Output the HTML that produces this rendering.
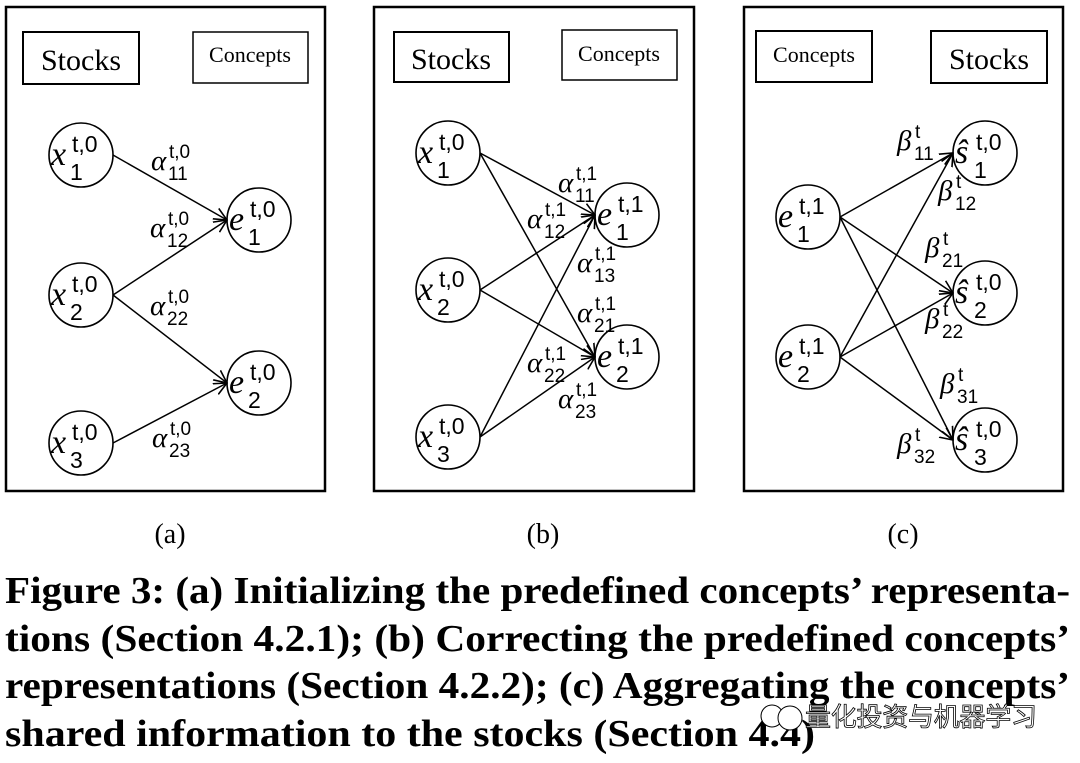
<!DOCTYPE html>
<html><head><meta charset="utf-8"><style>
html,body{margin:0;padding:0;background:#fff;}
svg{display:block;}
.m{font-family:"Liberation Serif",serif;font-style:italic;}
.u{font-family:"Liberation Sans",sans-serif;}
.cap{font-family:"Liberation Serif",serif;font-weight:bold;font-size:38px;}
</style></head><body>
<svg id="fig" width="1080" height="763" viewBox="0 0 1080 763" xmlns="http://www.w3.org/2000/svg">
<defs><marker id="ah" markerWidth="14" markerHeight="14" refX="13" refY="7" orient="auto" markerUnits="userSpaceOnUse"><path d="M0,1 L13,7 L0,13" fill="none" stroke="#000" stroke-width="1.6"/></marker></defs>
<g id="panels" fill="none" stroke="#000">
<rect x="6" y="7" width="319" height="484" stroke-width="2.5"/>
<rect x="374" y="7" width="320" height="484" stroke-width="2.5"/>
<rect x="744" y="7" width="319" height="484" stroke-width="2.5"/>
<rect x="23" y="32" width="116" height="52" stroke-width="2"/>
<rect x="193" y="32" width="115" height="51" stroke-width="1.5"/>
<rect x="394" y="32" width="115" height="50" stroke-width="2"/>
<rect x="562" y="30" width="115" height="50" stroke-width="1.5"/>
<rect x="756" y="31" width="116" height="51" stroke-width="2"/>
<rect x="931" y="31" width="116" height="52" stroke-width="2"/>
</g>
<g font-family="Liberation Serif, serif" fill="#000">
<text x="81" y="70" font-size="30" text-anchor="middle">Stocks</text>
<text x="250" y="62" font-size="22" text-anchor="middle">Concepts</text>
<text x="451" y="69" font-size="30" text-anchor="middle">Stocks</text>
<text x="619" y="61" font-size="22" text-anchor="middle">Concepts</text>
<text x="814" y="62" font-size="22" text-anchor="middle">Concepts</text>
<text x="989" y="69" font-size="30" text-anchor="middle">Stocks</text>
<text x="170" y="543" font-size="28" text-anchor="middle">(a)</text>
<text x="543" y="543" font-size="28" text-anchor="middle">(b)</text>
<text x="903" y="543" font-size="28" text-anchor="middle">(c)</text>
</g>
<g class="cap" fill="#000">
<text x="5" y="603" textLength="1065" lengthAdjust="spacingAndGlyphs">Figure 3: (a) Initializing the predefined concepts’ representa-</text>
<text x="5" y="651" textLength="1065" lengthAdjust="spacingAndGlyphs">tions (Section 4.2.1); (b) Correcting the predefined concepts’</text>
<text x="5" y="698" textLength="1065" lengthAdjust="spacingAndGlyphs">representations (Section 4.2.2); (c) Aggregating the concepts’</text>
<text x="5" y="746" textLength="810" lengthAdjust="spacingAndGlyphs">shared information to the stocks (Section 4.4)</text>
</g>
<g>
<circle cx="772" cy="716" r="11" fill="#fff" stroke="#000" stroke-width="1"/>
<circle cx="790" cy="718" r="12" fill="#fff" stroke="#000" stroke-width="1"/>
<text x="805" y="726" font-family="Noto Sans CJK SC, sans-serif" font-size="26" fill="#fff" stroke="#000" stroke-width="0.8" textLength="232">量化投资与机器学习</text>
</g>
<g id="dyn"></g>
</svg>
<script>
const NS="http://www.w3.org/2000/svg";
const dyn=document.getElementById('dyn');
function mk(tag,attrs){const e=document.createElementNS(NS,tag);for(const k in attrs)e.setAttribute(k,attrs[k]);dyn.appendChild(e);return e;}
const nodes=[
["a-x1",81,155,"x","t,0","1"],["a-x2",81,295,"x","t,0","2"],["a-x3",81,443,"x","t,0","3"],
["a-e1",259,220,"e","t,0","1"],["a-e2",259,383,"e","t,0","2"],
["b-x1",448,153,"x","t,0","1"],["b-x2",448,290,"x","t,0","2"],["b-x3",448,437,"x","t,0","3"],
["b-e1",627,215,"e","t,1","1"],["b-e2",627,357,"e","t,1","2"],
["c-e1",808,217,"e","t,1","1"],["c-e2",808,357,"e","t,1","2"],
["c-s1",985,153,"ŝ","t,0","1"],["c-s2",985,293,"ŝ","t,0","2"],["c-s3",985,440,"ŝ","t,0","3"]];
const R=32;
const byName={};
nodes.forEach(n=>{
 byName[n[0]]=n;
 const c=mk('circle',{cx:n[1],cy:n[2],r:R,fill:'none',stroke:'#000','stroke-width':1.6});
 
 
 const b=mk('text',{x:n[1]-30,y:n[2]+10,'font-size':34,class:'m'});b.textContent=n[3];
 
 
 const sp=mk('text',{x:n[1]-9,y:n[2]-3,'font-size':23,class:'u'});sp.textContent=n[4];
 
 
 const sb=mk('text',{x:n[1]-11,y:n[2]+25,'font-size':23,class:'u'});sb.textContent=n[5];
 
 
});
const edges=[["a-x1","a-e1"],["a-x2","a-e1"],["a-x2","a-e2"],["a-x3","a-e2"],
["b-x1","b-e1"],["b-x1","b-e2"],["b-x2","b-e1"],["b-x2","b-e2"],["b-x3","b-e1"],["b-x3","b-e2"],
["c-e1","c-s1"],["c-e1","c-s2"],["c-e1","c-s3"],["c-e2","c-s1"],["c-e2","c-s2"],["c-e2","c-s3"]];
edges.forEach(e=>{
 const a=byName[e[0]],b=byName[e[1]];
 const l=mk('line',{x1:a[1]+R,y1:a[2],x2:b[1]-R,y2:b[2],stroke:'#000','stroke-width':1.5,'marker-end':'url(#ah)'});
 
 
});
const wl=[[151,170,"α","t,0","11"],[150,237,"α","t,0","12"],[150,315,"α","t,0","22"],[152,447,"α","t,0","23"],
[558,192,"α","t,1","11"],[527,228,"α","t,1","12"],[577,272,"α","t,1","13"],[577,322,"α","t,1","21"],[527,372,"α","t,1","22"],[558,408,"α","t,1","23"],
[897,150,"β","t","11"],[938,200,"β","t","12"],[925,257,"β","t","21"],[925,328,"β","t","22"],[940,393,"β","t","31"],[897,453,"β","t","32"]];
wl.forEach((w,i)=>{
 const b=mk('text',{x:w[0],y:w[1],'font-size':29,class:'m'});b.textContent=w[2];
 
 
 const sp=mk('text',{x:w[0]+18,y:w[1]-12,'font-size':19,class:'u'});sp.textContent=w[3];
 
 
 const sb=mk('text',{x:w[0]+17,y:w[1]+10,'font-size':19,class:'u'});sb.textContent=w[4];
 
 
});
</script>
</body></html>
